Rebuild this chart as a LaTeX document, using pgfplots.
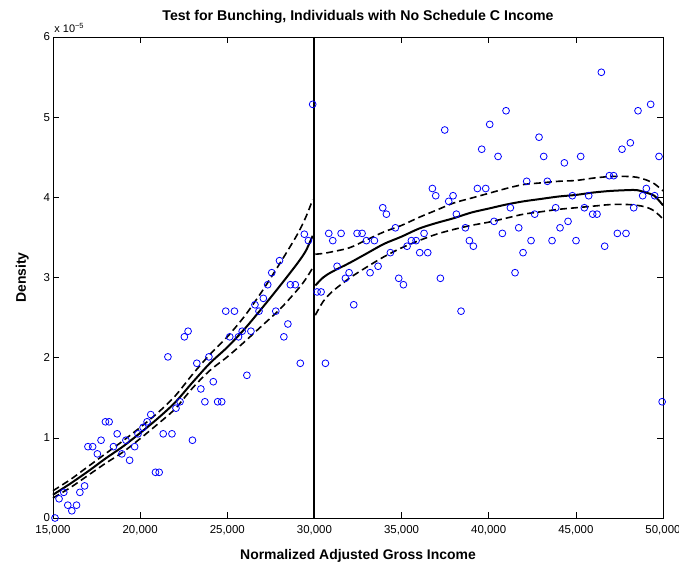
\documentclass[border=0pt]{standalone}
\usepackage{pgfplots}
\pgfplotsset{compat=1.18}
\usepackage{fontspec}
\setmainfont{Liberation Sans}
\definecolor{mblue}{RGB}{0,0,255}
\begin{document}
\begin{tikzpicture}
\begin{axis}[name=ax, scale only axis, width=610bp, height=481bp,
  xmin=15000, xmax=50000, ymin=0, ymax=6,
  xtick={15000,20000,...,50000}, ytick={0,1,...,6},
  scaled x ticks=false, scaled y ticks=false,
  /pgf/number format/1000 sep={,},
  /pgf/number format/assume math mode=true,
  tick align=inside, xtick pos=both, ytick pos=both,
  major tick length=6bp,
  axis line style={line width=0.8bp},
  every tick/.style={black, line width=0.6bp},
  tick label style={font=\fontsize{11.5}{13}\selectfont},
  xticklabel style={yshift=-3.5bp},
  yticklabel style={xshift=0.5bp},
  every axis title shift=0pt,
  title={Test for Bunching, Individuals with No Schedule C Income},
  title style={font=\bfseries\fontsize{14.2}{16}\selectfont, at={(axis description cs:0.5,1.035)}, anchor=base},
  xlabel={Normalized Adjusted Gross Income},
  xlabel style={font=\bfseries\fontsize{14}{16}\selectfont, at={(axis description cs:0.5,-0.0873)}, anchor=base},
  ylabel={Density},
  ylabel style={font=\bfseries\fontsize{14}{16}\selectfont, at={(axis description cs:-0.0443,0.5)}, anchor=base},
  clip=false,
]
% scatter
\addplot[only marks, mark=o, mark size=3.4bp, color=mblue, mark options={line width=0.8bp}] coordinates {
(15116,0.00) (15347,0.24) (15617,0.32) (15848,0.16) (16080,0.09) (16350,0.16) (16542,0.32) (16812,0.40)
(17005,0.89) (17275,0.89) (17545,0.80) (17757,0.97) (18008,1.20) (18220,1.20) (18470,0.89) (18682,1.05)
(18952,0.80) (19184,0.97) (19396,0.72) (19685,0.89) (19878,1.05) (20167,1.13) (20398,1.20) (20610,1.29)
(20880,0.57) (21092,0.57) (21324,1.05) (21594,2.01) (21825,1.05) (22056,1.37) (22288,1.45) (22538,2.26)
(22751,2.33) (23001,0.97) (23252,1.93) (23483,1.61) (23715,1.45) (23946,2.01) (24197,1.70) (24447,1.45)
(24679,1.45) (24910,2.58) (25141,2.26) (25411,2.58) (25643,2.26) (25855,2.33) (26125,1.78) (26356,2.33)
(26587,2.66) (26819,2.58) (27069,2.74) (27320,2.91) (27551,3.06) (27783,2.58) (27995,3.21) (28246,2.26)
(28477,2.42) (28620,2.91) (28900,2.91) (29190,1.93) (29421,3.54) (29653,3.46) (29900,5.16)
(30153,2.82) (30382,2.82) (30631,1.93) (30822,3.55) (31052,3.46) (31300,3.14) (31530,3.55) (31778,2.99)
(31988,3.06) (32256,2.66) (32447,3.55) (32734,3.55) (32983,3.46) (33193,3.06) (33442,3.46) (33652,3.14)
(33920,3.87) (34130,3.79) (34359,3.31) (34646,3.62) (34837,2.99) (35105,2.91) (35315,3.39) (35564,3.46)
(35832,3.46) (36042,3.31) (36290,3.55) (36501,3.31) (36768,4.11) (36960,4.02) (37227,2.99) (37476,4.84)
(37705,3.95) (37954,4.02) (38145,3.79) (38412,2.58) (38661,3.62) (38891,3.46) (39120,3.39) (39350,4.11)
(39598,4.60) (39828,4.11) (40057,4.91) (40306,3.70) (40535,4.51) (40783,3.55) (40994,5.08) (41243,3.87)
(41510,3.06) (41721,3.62) (41969,3.31) (42180,4.20) (42428,3.46) (42638,3.79) (42887,4.75) (43155,4.51)
(43365,4.20) (43633,3.46) (43843,3.87) (44092,3.62) (44340,4.43) (44551,3.70) (44799,4.02) (45009,3.46)
(45277,4.51) (45487,3.87) (45736,4.02) (45965,3.79) (46214,3.79) (46462,5.56) (46653,3.39) (46921,4.27)
(47169,4.27) (47380,3.55) (47648,4.60) (47877,3.55) (48126,4.68) (48317,3.87) (48566,5.08) (48833,4.02)
(49044,4.11) (49292,5.16) (49522,4.02) (49771,4.51) (49950,1.45)
};
% left fit
\addplot[black, line width=2bp, smooth] coordinates {
(15000,0.29) (16000,0.43) (17000,0.58) (18000,0.74) (19000,0.89) (20000,1.06) (21000,1.24) (22000,1.44)
(23000,1.69) (24000,1.93) (25000,2.13) (26000,2.36) (27000,2.62) (28000,2.89) (29000,3.17) (29500,3.33) (29900,3.52)
};
\addplot[black, line width=1.6bp, dash pattern=on 7bp off 4bp, smooth] coordinates {
(15000,0.34) (16000,0.48) (17000,0.64) (18000,0.80) (19000,0.96) (20000,1.13) (21000,1.31) (22000,1.52)
(23000,1.79) (24000,2.04) (25000,2.26) (26000,2.52) (27000,2.83) (28000,3.17) (29000,3.53) (29500,3.75) (29900,3.97)
};
\addplot[black, line width=1.6bp, dash pattern=on 7bp off 4bp, smooth] coordinates {
(15000,0.25) (16000,0.38) (17000,0.53) (18000,0.68) (19000,0.82) (20000,0.99) (21000,1.17) (22000,1.36)
(23000,1.62) (24000,1.84) (25000,2.01) (26000,2.20) (27000,2.40) (28000,2.60) (29000,2.84) (29500,2.98) (29900,3.12)
};
% right fit
\addplot[black, line width=2bp, smooth] coordinates {
(30050,2.90) (30500,3.00) (31000,3.07) (32000,3.18) (33000,3.30) (34000,3.42) (35000,3.51) (36000,3.61)
(37000,3.68) (38000,3.74) (39000,3.81) (40000,3.86) (41000,3.91) (42000,3.95) (43000,3.98) (44000,4.01)
(45000,4.03) (46000,4.06) (47000,4.08) (48000,4.09) (48500,4.09) (49000,4.06) (49500,4.02) (50000,3.90)
};
\addplot[black, line width=1.6bp, dash pattern=on 7bp off 4bp, smooth] coordinates {
(30050,3.29) (30500,3.30) (31000,3.32) (32000,3.37) (33000,3.47) (34000,3.57) (35000,3.65) (36000,3.75)
(37000,3.84) (38000,3.93) (39000,3.99) (40000,4.05) (41000,4.11) (42000,4.16) (43000,4.18) (44000,4.20)
(45000,4.21) (46000,4.24) (47000,4.26) (48000,4.26) (48500,4.25) (49000,4.22) (49500,4.17) (50000,4.08)
};
\addplot[black, line width=1.6bp, dash pattern=on 7bp off 4bp, smooth] coordinates {
(30050,2.53) (30500,2.70) (31000,2.82) (32000,2.99) (33000,3.13) (34000,3.26) (35000,3.37) (36000,3.46)
(37000,3.54) (38000,3.60) (39000,3.65) (40000,3.69) (41000,3.74) (42000,3.79) (43000,3.82) (44000,3.85)
(45000,3.87) (46000,3.89) (47000,3.91) (48000,3.91) (48500,3.90) (49000,3.88) (49500,3.83) (50000,3.73)
};
% threshold line
\addplot[black, line width=1.9bp] coordinates {(30000,0) (30000,6)};
\node[anchor=base west, inner sep=0, font=\fontsize{11}{13}\selectfont] at (axis description cs:0.002,1.009) {x 10\raisebox{4.5bp}{\fontsize{7.5}{8}\selectfont −5}};
\end{axis}
\pgfresetboundingbox
\path[use as bounding box] ([xshift=-53bp,yshift=-49bp]ax.south west) rectangle ([xshift=16bp,yshift=37bp]ax.north east);
\end{tikzpicture}
\end{document}
